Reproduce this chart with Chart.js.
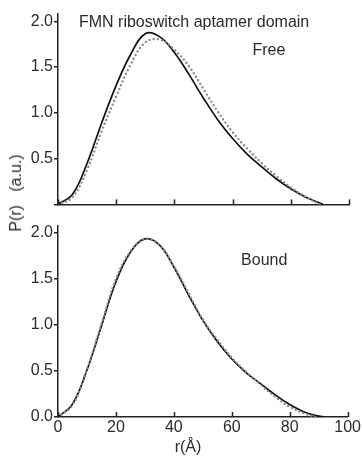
<!DOCTYPE html>
<html>
<head>
<meta charset="utf-8">
<script src="https://cdn.jsdelivr.net/npm/chart.js@4"></script>
<style>
  body { margin: 0; background: #fff; }
  #wrap { position: relative; width: 362px; height: 456px; font-family: "Liberation Sans", Arial, sans-serif; color: #2b2b2b; }
  .panel { position: absolute; left: 0; width: 362px; }
  #topBox { top: 0; height: 215px; }
  #botBox { top: 215px; height: 241px; }
  #yTitle { position: absolute; left: 16px; top: 193px; font-size: 16px; white-space: pre; transform: translate(-50%, -50%) rotate(-90deg); }
  #xTitle { position: absolute; left: 188px; top: 447px; font-size: 16px; transform: translate(-50%, -50%); }
</style>
</head>
<body>
<div id="wrap">
  <div class="panel" id="topBox"><canvas id="cFree"></canvas></div>
  <div class="panel" id="botBox"><canvas id="cBound"></canvas></div>
  <div id="yTitle">P(r)   (a.u.)</div>
  <div id="xTitle">r(Å)</div>
</div>
<script>
// tick values
const xTicks = [0, 20, 40, 60, 80, 100];
const yTicks = [0, 0.5, 1.0, 1.5, 2.0];

// Free: fit (solid) and experiment (dotted), r in Å
const rFreeFit = [0, 5, 10, 15, 20, 25, 30, 35, 40, 45, 50, 55, 60, 65, 70, 75, 80, 85, 90, 91];
const pFreeFit = [0, 0.11, 0.45, 0.89, 1.30, 1.64, 1.865, 1.83, 1.66, 1.42, 1.16, 0.92, 0.72, 0.55, 0.41, 0.28, 0.17, 0.08, 0.015, 0];
const rFreeExp = [0, 5, 10, 15, 20, 25, 30, 35, 40, 45, 50, 55, 60, 65, 70, 75, 80, 85, 90];
const pFreeExp = [0, 0.08, 0.38, 0.80, 1.18, 1.53, 1.77, 1.80, 1.69, 1.51, 1.26, 1.01, 0.79, 0.61, 0.45, 0.31, 0.185, 0.085, 0];

// Bound
const rBoundFit = [0, 5, 10, 15, 20, 25, 30, 35, 40, 45, 50, 55, 60, 65, 70, 75, 80, 85, 90, 92];
const pBoundFit = [0, 0.14, 0.51, 0.99, 1.47, 1.79, 1.935, 1.87, 1.63, 1.33, 1.05, 0.82, 0.63, 0.48, 0.36, 0.24, 0.135, 0.055, 0.01, 0];
const rBoundExp = [0, 5, 10, 15, 20, 25, 30, 35, 40, 45, 50, 55, 60, 65, 70, 75, 80, 85, 89];
const pBoundExp = [0, 0.13, 0.52, 1.01, 1.50, 1.80, 1.935, 1.87, 1.64, 1.35, 1.06, 0.84, 0.645, 0.49, 0.35, 0.22, 0.11, 0.04, 0];

const FONT = '"Liberation Sans", Arial, sans-serif';
const TXT = '#2b2b2b';
const AXIS = '#222';

function pts(rs, ps) {
    return rs.map((r, i) => ({ x: r, y: ps[i] }));
}

// inward x ticks + text notes placed through the scales
const panelDecor = {
    id: 'panelDecor',
    afterDraw(chart, args, opts) {
        const { ctx } = chart;
        const x = chart.scales.x, y = chart.scales.y;
        ctx.save();
        ctx.strokeStyle = AXIS;
        ctx.lineWidth = 1.5;
        xTicks.forEach(v => {
            const px = Math.round(x.getPixelForValue(v)) + 0.5;
            ctx.beginPath();
            ctx.moveTo(px, y.bottom);
            ctx.lineTo(px, y.bottom - 5);
            ctx.stroke();
        });
        ctx.fillStyle = TXT;
        ctx.font = '16px ' + FONT;
        ctx.textBaseline = 'alphabetic';
        (opts.notes || []).forEach(n => {
            ctx.fillText(n.text, x.getPixelForValue(n.r), y.getPixelForValue(n.p));
        });
        ctx.restore();
    }
};

function makePanel(id, fit, exp, opt) {
    const canvas = document.getElementById(id);
    return new Chart(canvas.getContext('2d'), {
        type: 'line',
        data: {
            datasets: [
                { data: exp, borderColor: '#8a8a8a', borderWidth: 2.4, borderDash: [0, 4.2], borderCapStyle: 'round', order: 0 },
                { data: fit, borderColor: '#111', borderWidth: 1.7, order: 1 }
            ]
        },
        options: {
            responsive: true,
            maintainAspectRatio: false,
            animation: false,
            layout: { padding: { top: opt.padTop, right: 13, bottom: 0, left: 0 } },
            plugins: {
                legend: { display: false },
                tooltip: { enabled: false },
                panelDecor: { notes: opt.notes }
            },
            elements: {
                point: { radius: 0 },
                line: { tension: 0.4, fill: false }
            },
            scales: {
                x: {
                    type: 'linear', min: 0, max: 100,
                    afterBuildTicks: s => { s.ticks = xTicks.map(v => ({ value: v })); },
                    afterFit: s => { s.height = opt.xHeight; },
                    grid: { display: false, drawTicks: false },
                    border: { display: true, color: AXIS, width: 1.5 },
                    ticks: { display: opt.xLabels, padding: 1, color: TXT, font: { family: FONT, size: 16 }, maxRotation: 0 }
                },
                y: {
                    min: 0, max: 2.08,
                    afterBuildTicks: s => { s.ticks = yTicks.map(v => ({ value: v })); },
                    afterFit: s => { s.width = 58; },
                    grid: { drawOnChartArea: false, drawTicks: true, tickLength: 4, color: AXIS, lineWidth: 1.5 },
                    border: { display: true, color: AXIS, width: 1.5 },
                    ticks: {
                        padding: 1, color: TXT, font: { family: FONT, size: 16 },
                        callback: v => (v === 0 && !opt.showZero) ? '' : v.toFixed(1)
                    }
                }
            }
        },
        plugins: [panelDecor]
    });
}

makePanel('cFree', pts(rFreeFit, pFreeFit), pts(rFreeExp, pFreeExp), {
    padTop: 14, xHeight: 9, xLabels: false, showZero: false,
    notes: [
        { text: 'FMN riboswitch aptamer domain', r: 7.2, p: 1.94 },
        { text: 'Free', r: 66.8, p: 1.63 }
    ]
});

makePanel('cBound', pts(rBoundFit, pBoundFit), pts(rBoundExp, pBoundExp), {
    padTop: 8, xHeight: 39, xLabels: true, showZero: true,
    notes: [
        { text: 'Bound', r: 63.2, p: 1.65 }
    ]
});
</script>
</body>
</html>
